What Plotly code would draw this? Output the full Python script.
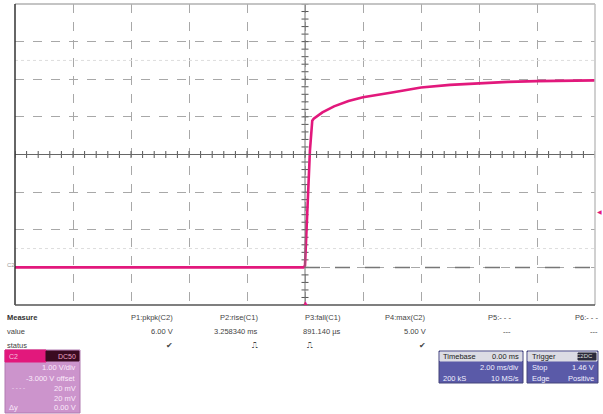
import numpy as np
import plotly.graph_objects as go

# C2 trace (time in ms, voltage in V)
t_ms = [-10, -0.05, 0.0, 0.1, 0.17, 0.25, 0.3, 0.6, 1.0, 1.5, 2.0, 3.0, 4.0, 5.0, 6.0, 7.0, 8.0, 9.0, 10.0]
volts = [0, 0, 0.05, 1.8, 3.1, 3.9, 3.95, 4.12, 4.28, 4.42, 4.52, 4.65, 4.78, 4.85, 4.9, 4.93, 4.95, 4.96, 4.97]

# measurement table
meas_names = ["P1:pkpk(C2)", "P2:rise(C1)", "P3:fall(C1)", "P4:max(C2)", "P5:- - -", "P6:- - -"]
meas_values = ["6.00 V", "3.258340 ms", "891.140 µs", "5.00 V", "---", "---"]
meas_status = ["✔", "⎍", "⎍", "✔", "", ""]
meas_right = [175, 260, 343, 428, 513, 600]

trig_level = 1.46
MAG = "#e2187c"
GRID = "#a8a8a8"
W, H = 603, 414

# plot area in pixels
x0, x1, y0, y1 = 15, 595, 4, 305

def px(x):
    return x / W

def py(y):
    return 1 - y / H

fig = go.Figure()

# center graticule ticks
hx = np.arange(-10, 10.01, 0.4)
fig.add_trace(go.Scatter(x=hx, y=[3] * len(hx), mode="markers",
                         marker=dict(symbol="line-ns", size=5, line=dict(width=1, color="#555")),
                         hoverinfo="skip", showlegend=False))
vy = np.arange(-1, 7.01, 0.2)
fig.add_trace(go.Scatter(x=[0] * len(vy), y=vy, mode="markers",
                         marker=dict(symbol="line-ew", size=5, line=dict(width=1, color="#555")),
                         hoverinfo="skip", showlegend=False))

# faint dotted rows
for lv in [5.5, 0.5]:
    fig.add_trace(go.Scatter(x=[-10, 10], y=[lv, lv], mode="lines",
                             line=dict(color="#dddddd", width=1, dash="dot"),
                             hoverinfo="skip", showlegend=False))

# reference dashed line at 0 V
fig.add_trace(go.Scatter(x=[0, 10], y=[0, 0], mode="lines",
                         line=dict(color="#777", width=1.5, dash="longdash"),
                         hoverinfo="skip", showlegend=False))

# the waveform
fig.add_trace(go.Scatter(x=t_ms, y=volts, mode="lines",
                         line=dict(color=MAG, width=2.6), showlegend=False))

shapes = []
# center lines
shapes.append(dict(type="line", xref="x", yref="y", x0=-10, x1=10, y0=3, y1=3,
                   line=dict(color="#666", width=1)))
shapes.append(dict(type="line", xref="x", yref="y", x0=0, x1=0, y0=-1, y1=7,
                   line=dict(color="#777", width=1)))
# border
shapes.append(dict(type="line", xref="paper", yref="paper", x0=px(x0), x1=px(x1), y0=py(y0), y1=py(y0),
                   line=dict(color="#b0b0b0", width=1.5)))
shapes.append(dict(type="line", xref="paper", yref="paper", x0=px(x1), x1=px(x1), y0=py(y0), y1=py(y1),
                   line=dict(color="#c0c0c0", width=1.5)))
shapes.append(dict(type="line", xref="paper", yref="paper", x0=px(x0), x1=px(x0), y0=py(y0), y1=py(y1),
                   line=dict(color="#333", width=1.5)))
shapes.append(dict(type="line", xref="paper", yref="paper", x0=px(x0), x1=px(x1), y0=py(y1), y1=py(y1),
                   line=dict(color="#555", width=1.5)))

def box(xa, ya, xb, yb, color, line=None):
    shapes.append(dict(type="rect", xref="paper", yref="paper", x0=px(xa), x1=px(xb), y0=py(yb), y1=py(ya),
                       fillcolor=color, line=dict(width=1, color=line or color), layer="above"))

# C2 channel box
box(5, 350, 80, 413, "#cc94cc", "#b07ab0")
box(5, 350, 46, 362, MAG)
box(46, 351, 79, 361, "#3a0a20")
# timebase box
box(439, 351, 523, 383, "#5a5aa8", "#44447a")
box(440, 352, 522, 361, "#dcdce4")
# trigger box
box(527, 351, 598, 383, "#5a5aa8", "#44447a")
box(528, 352, 597, 361, "#dcdce4")
box(578, 353, 596, 360, "#2a2a3a")

ann = []

def txt(x, y, s, anchor="left", color="#444", size=7.5, bold=False):
    if bold:
        s = "<b>" + s + "</b>"
    ann.append(dict(x=px(x), y=py(y), xref="paper", yref="paper", text=s, showarrow=False,
                    xanchor=anchor, yanchor="middle",
                    font=dict(size=size, color=color, family="Liberation Sans, Arial")))

txt(5, 317, "Measure", bold=True, color="#333")
txt(5, 331, "value")
txt(5, 345, "status")
for name, val, st, r in zip(meas_names, meas_values, meas_status, meas_right):
    txt(r, 317, name, "right")
    txt(r, 331, val, "right")
    if st:
        sx = 315 if name.startswith("P3") else r
        txt(sx, 345, st, "right", size=8)

# channel box text
txt(7, 356, "C2", color="#f4c0dc", size=7)
txt(78, 356, "DC50", "right", color="#e8a0c0", size=7)
txt(78, 367, "1.00 V/div", "right", color="#fbeafb")
txt(78, 378, "-3.000 V offset", "right", color="#fbeafb")
txt(10, 388, "- - - -", color="#fbeafb", size=6)
txt(78, 388, "20 mV", "right", color="#fbeafb")
txt(78, 398, "20 mV", "right", color="#fbeafb")
txt(7, 407, "Δy", color="#fbeafb")
txt(78, 407, "0.00 V", "right", color="#fbeafb")

# timebase text
txt(441, 356, "Timebase", color="#222")
txt(521, 356, "0.00 ms", "right", color="#222")
txt(521, 367, "2.00 ms/div", "right", color="#f0f0ff")
txt(441, 378, "200 kS", color="#f0f0ff")
txt(521, 378, "10 MS/s", "right", color="#f0f0ff")
# trigger text
txt(530, 356, "Trigger", color="#222")
txt(595, 356, "C2DC", "right", color="#ddd", size=6)
txt(530, 367, "Stop", color="#f0f0ff")
txt(596, 367, "1.46 V", "right", color="#f0f0ff")
txt(530, 378, "Edge", color="#f0f0ff")
txt(596, 378, "Positive", "right", color="#f0f0ff")

# channel label and markers
txt(5, 265, "C2", color="#999", size=6)
ann.append(dict(x=10, y=trig_level, xref="x", yref="y", text="◀", showarrow=False,
                xanchor="left", xshift=0, font=dict(size=6, color=MAG)))
ann.append(dict(x=0, y=py(309), xref="x", yref="paper", text="▲", showarrow=False,
                font=dict(size=7, color=MAG)))

fig.update_layout(
    width=W, height=H, margin=dict(l=0, r=0, t=0, b=0),
    paper_bgcolor="white", plot_bgcolor="white",
    shapes=shapes, annotations=ann, showlegend=False,
    xaxis=dict(domain=[px(x0), px(x1)], range=[-10, 10], dtick=2, tick0=-10,
               showgrid=True, gridcolor=GRID, griddash="dash", gridwidth=1,
               zeroline=False, showticklabels=False, ticks="", fixedrange=True),
    yaxis=dict(domain=[py(y1), py(y0)], range=[-1, 7], dtick=1, tick0=-1,
               showgrid=True, gridcolor=GRID, griddash="dash", gridwidth=1,
               zeroline=False, showticklabels=False, ticks="", fixedrange=True),
)

fig.write_html("out.html", config={"displayModeBar": False},
               post_script="document.body.style.margin='0';document.body.style.overflow='hidden';")
